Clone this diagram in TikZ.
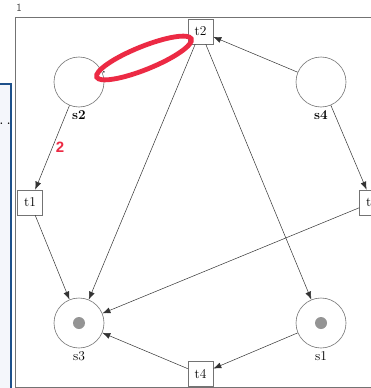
\documentclass[tikz,border=0pt]{standalone}
\usepackage{fontspec}
\newfontfamily\notefont{Liberation Sans}
\usetikzlibrary{arrows.meta,positioning}

\definecolor{markred}{RGB}{236,42,68}
\definecolor{panelblue}{RGB}{29,80,138}
\definecolor{panelfill}{RGB}{244,246,251}

\begin{document}
\begin{tikzpicture}[
  x=1pt, y=-1pt,
  font=\fontsize{13.5}{15}\selectfont,
  place/.style={draw=black!55, circle, minimum size=50pt, inner sep=0pt, line width=0.6pt},
  trans/.style={draw=black!55, fill=white, minimum size=25pt, inner sep=0pt, line width=0.6pt},
  token/.style={circle, fill=black!42, minimum size=12pt, inner sep=0pt},
  arc/.style={-{Latex[length=8pt,width=6pt]}, draw=black!80, line width=0.5pt},
  plabel/.style={label distance=0pt},
  weight/.style={font=\notefont\bfseries\fontsize{15}{17}\selectfont, text=markred},
  ring/.style={draw=markred, line width=4.8pt}
]

\clip (0,0) rectangle (371,388);
\fill[white] (0,0) rectangle (371,388);

% sheet frame and number
\draw[black!55, line width=1pt] (15,17) rectangle (395,387);
\node[font=\sffamily\fontsize{11}{13}\selectfont, text=black!75] (sheet) at (19,8) {1};

% side panel
\draw[fill=panelfill, draw=panelblue, line width=2pt] (-5,84) rectangle (11,395);
\node[font=\bfseries, anchor=base east, inner sep=0pt] (more) at (10.5,124) {.\hspace{4pt}.\hspace{4pt}.};

% places
\node[place, label={[plabel]below:\textbf{s2}}] (s2) at (79,82) {};
\node[place, label={[plabel]below:\textbf{s4}}] (s4) at (321,82) {};
\node[place, label={[plabel]below:s3}] (s3) at (79,323) {};
\node[place, label={[plabel]below:s1}] (s1) at (321,323) {};
\node[token] (k3) at (s3) {};
\node[token] (k1) at (s1) {};

% transitions
\node[trans] (t2) at (200.5,31.5) {t2};
\node[trans] (t1) at (30,202.5) {t1};
\node[trans] (t3) at (372,202.5) {t3};
\node[trans] (t4) at (200.5,374) {t4};

% arcs
\draw[arc] (s4) -- (t2);
\draw[-{Latex[length=2pt,width=2pt]}, draw=black!80, line width=0.5pt] ([shift={(2,-1)}]s2.22) -- (s2.22);
\draw[arc] (s2) -- node[weight, right, pos=0.5] {2} (t1);
\draw[arc] (t1) -- (s3);
\draw[arc] (t2) -- (s3);
\draw[arc] (t2) -- (s1);
\draw[arc] (s4) -- (t3);
\draw[arc] (t3) -- (s3);
\draw[arc] (s1) -- (t4);
\draw[arc] (t4) -- (s3);

% highlight
\draw[ring, rotate around={22:(144,58)}] (144,58) ellipse [x radius=51, y radius=11.5];

\end{tikzpicture}
\end{document}
